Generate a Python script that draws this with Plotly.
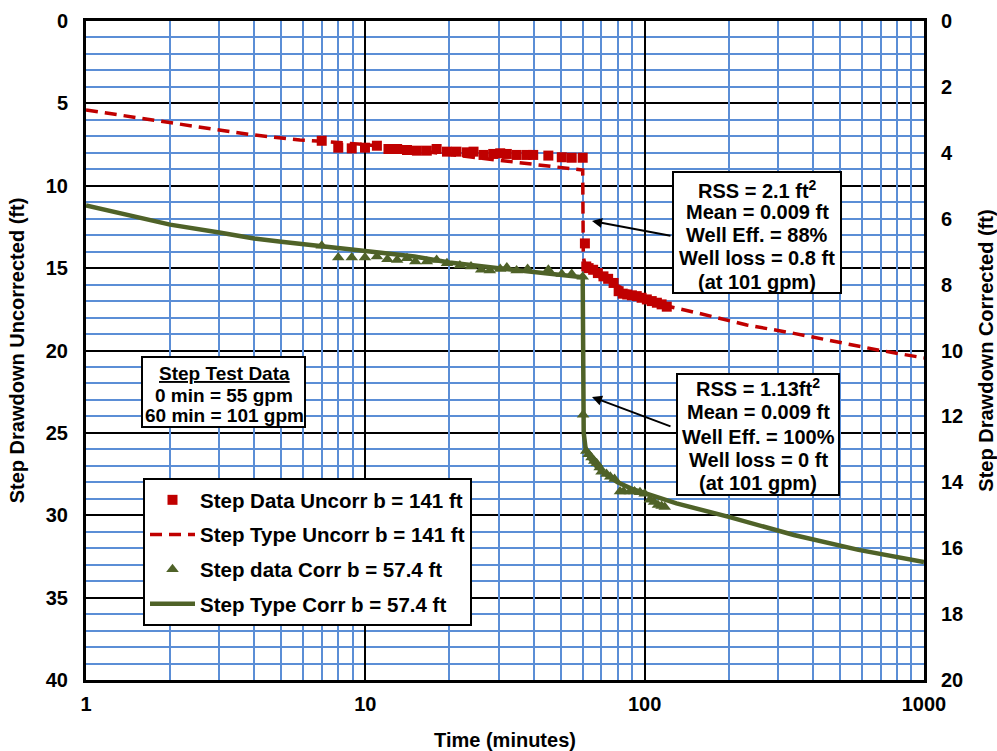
import plotly.graph_objects as go

# ---- Step test data ----
# Uncorrected drawdown (left axis, ft)
data_uncorr_t = [6.98, 8.0, 8.94, 9.97, 11.0, 12.1, 13.0, 14.1, 15.3, 16.6, 18.0, 19.6, 21.2, 23.1,
                 24.4, 26.5, 28.7, 30.4, 32.1, 34.8, 37.8, 39.9, 45.2, 50.5, 54.8, 60.0,
                 61.1, 61.8, 63.0, 65.4, 68.0, 71.2, 74.0, 77.4, 80.7, 83.5, 86.6, 90.0, 93.7,
                 97.5, 101.8, 106.0, 110.6, 115.0, 120.0]
data_uncorr_s = [7.27, 7.69, 7.73, 7.69, 7.57, 7.77, 7.77, 7.83, 7.87, 7.87, 7.77, 7.93, 7.93, 7.97,
                 7.93, 8.13, 8.07, 8.03, 8.07, 8.13, 8.13, 8.13, 8.17, 8.27, 8.30, 8.30,
                 13.5, 14.9, 15.0, 15.1, 15.3, 15.5, 15.65, 15.9, 16.4, 16.55, 16.6, 16.65, 16.7,
                 16.8, 16.9, 17.0, 17.1, 17.2, 17.34]

# Type curve, uncorrected (left axis, ft)
type_uncorr_t = [1, 2, 3, 4, 5.83, 7, 10, 15, 20, 30, 40, 50, 58, 60, 60.3, 61, 62, 65, 70, 80,
                 90, 100, 120, 157, 232, 342, 487, 700, 1000]
type_uncorr_s = [5.4, 6.2, 6.62, 6.92, 7.22, 7.3, 7.5, 7.85, 8.1, 8.44, 8.72, 8.88, 9.0, 9.05,
                 14.3, 14.7, 15.0, 15.3, 15.6, 16.1, 16.5, 16.85, 17.3, 17.75, 18.45, 18.96,
                 19.5, 20.0, 20.45]

# Corrected drawdown (right axis, ft)
data_corr_t = [6.98, 8.0, 8.94, 9.97, 11.0, 12.0, 13.0, 14.1, 15.1, 16.6, 18.0, 19.6, 21.8, 23.9,
               26.0, 27.9, 30.4, 32.1, 34.8, 38.1, 45.2, 50.5, 54.8, 60.0,
               60.2, 61.8, 63.0, 64.5, 66.0, 67.3, 69.0, 70.1, 73.0, 75.3, 78.0, 81.6, 84.0,
               88.6, 92.0, 96.2, 100.0, 104.4, 108.0, 111.6, 115.0, 118.0]
data_corr_s = [6.82, 7.18, 7.18, 7.18, 7.15, 7.23, 7.25, 7.2, 7.3, 7.3, 7.25, 7.35, 7.42, 7.45,
               7.55, 7.57, 7.53, 7.48, 7.57, 7.53, 7.55, 7.68, 7.68, 7.76,
               11.95, 13.05, 13.15, 13.25, 13.35, 13.42, 13.55, 13.68, 13.75, 13.83, 13.9, 14.28,
               14.28, 14.28, 14.28, 14.3, 14.35, 14.53, 14.6, 14.69, 14.72, 14.75]

# Type curve, corrected (right axis, ft)
type_corr_t = [1, 1.5, 2, 3, 4, 5, 7, 10, 15, 20, 30, 40, 50, 60, 60.5, 61.5, 64, 67, 71, 80,
               90, 100, 130, 200, 342, 583, 1000]
type_corr_s = [5.6, 5.92, 6.18, 6.42, 6.6, 6.7, 6.82, 6.98, 7.15, 7.33, 7.5, 7.62, 7.7, 7.78,
               12.5, 13.0, 13.3, 13.5, 13.7, 14.0, 14.2, 14.33, 14.64, 15.05, 15.6, 16.05, 16.42]

# Axis ticks
left_ticks = [0, 5, 10, 15, 20, 25, 30, 35, 40]
right_ticks = [0, 2, 4, 6, 8, 10, 12, 14, 16, 18, 20]
x_ticks = [1, 10, 100, 1000]
x_minor = [m * d for d in (1, 10, 100) for m in range(2, 10)]

# ---- Styling ----
FONT = "Liberation Sans, Arial, sans-serif"
RED = "#C00000"
GREEN = "#4F6228"
BLUE = "#5B8ED6"
W, H = 997, 751
L, R, T, B = 86, 924, 21, 680  # plot area in pixels


def px(xp):
    return (xp - L) / (R - L)


def py(yp):
    return (B - yp) / (B - T)


fig = go.Figure()

fig.add_trace(go.Scatter(
    x=data_uncorr_t, y=data_uncorr_s, mode="markers", name="Step Data Uncorr b = 141 ft",
    marker=dict(symbol="square", size=10, color=RED), legendgroup="a",
    xaxis="x", yaxis="y"))
fig.add_trace(go.Scatter(
    x=type_uncorr_t, y=type_uncorr_s, mode="lines", name="Step Type Uncorr b = 141 ft",
    line=dict(color=RED, width=3.5, dash="12px,7px"), legendgroup="b",
    xaxis="x", yaxis="y"))
fig.add_trace(go.Scatter(
    x=data_corr_t, y=data_corr_s, mode="markers", name="Step data Corr b = 57.4 ft",
    marker=dict(symbol="triangle-up", size=11, color=GREEN), legendgroup="c",
    xaxis="x2", yaxis="y2"))
fig.add_trace(go.Scatter(
    x=type_corr_t, y=type_corr_s, mode="lines", name="Step Type Corr b = 57.4 ft",
    line=dict(color=GREEN, width=4.5), legendgroup="d",
    xaxis="x2", yaxis="y2"))

bold = dict(family=FONT, size=20, color="black", weight="bold")

fig.update_layout(
    width=W, height=H,
    margin=dict(l=L, r=W - R, t=T, b=H - B, autoexpand=False),
    paper_bgcolor="white", plot_bgcolor="white",
    font=bold,
    showlegend=True,
    legend=dict(
        x=px(143), y=py(478), xanchor="left", yanchor="top",
        bgcolor="white", bordercolor="black", borderwidth=2,
        font=dict(family=FONT, size=20.5, color="black", weight="bold"),
        traceorder="grouped", tracegroupgap=5, itemwidth=45,
    ),
    # decade lines (black) and labels
    xaxis=dict(
        type="log", range=[0, 3], tickvals=x_ticks, ticktext=[str(v) for v in x_ticks],
        showgrid=True, gridcolor="black", gridwidth=2,
        showline=True, linecolor="black", linewidth=3, mirror=True,
        ticks="", ticklabelstandoff=4, tickfont=bold,
        title=dict(text="Time (minutes)", font=bold, standoff=28),
        zeroline=False,
    ),
    # intermediate log lines (blue), same scale as the main time axis
    xaxis2=dict(
        type="log", range=[0, 3], overlaying="x", anchor="y2", side="bottom",
        tickvals=x_minor, showticklabels=False, ticks="",
        showgrid=True, gridcolor=BLUE, gridwidth=1.5,
        showline=False, zeroline=False,
    ),
    yaxis=dict(
        range=[40, 0], tickvals=left_ticks,
        showgrid=True, gridcolor="black", gridwidth=2,
        minor=dict(dtick=1, showgrid=True, gridcolor=BLUE, gridwidth=1.5, ticks=""),
        showline=True, linecolor="black", linewidth=3, mirror=True,
        ticks="", ticklabelstandoff=11, tickfont=bold,
        title=dict(text="Step Drawdown Uncorrected (ft)", font=bold, standoff=16),
        zeroline=False,
    ),
    yaxis2=dict(
        overlaying="y", side="right", range=[20, 0], tickvals=right_ticks,
        showgrid=False, showline=False, ticks="", ticklabelstandoff=16, tickfont=bold,
        title=dict(text="Step Drawdown Corrected (ft)", font=bold, standoff=17),
        zeroline=False,
    ),
)

shapes = []
annotations = []


def box(x0, y0, x1, y1):
    shapes.append(dict(type="rect", xref="paper", yref="paper",
                       x0=px(x0), x1=px(x1), y0=py(y1), y1=py(y0),
                       line=dict(color="black", width=2), fillcolor="white", layer="above"))


def text_line(xc, yc, s, size=20):
    annotations.append(dict(xref="paper", yref="paper", x=px(xc), y=py(yc),
                            text=s, showarrow=False, xanchor="center", yanchor="middle",
                            font=dict(family=FONT, size=size, color="black", weight="bold")))


def arrow(hx, hy, tx, ty):
    annotations.append(dict(xref="paper", yref="paper", x=px(hx), y=py(hy),
                            axref="pixel", ayref="pixel", ax=tx - hx, ay=ty - hy,
                            text="", showarrow=True, arrowhead=2, arrowsize=1,
                            arrowwidth=2, arrowcolor="black", standoff=0))


# Step test summary
box(142, 357, 305, 427)
for yc, s in [(373, "<u>Step Test Data</u>"), (395, "0 min = 55 gpm"), (415, "60 min = 101 gpm")]:
    text_line(224, yc, s, size=19)

# Uncorrected fit statistics
box(673, 172, 841, 293)
for yc, s in [(189, "RSS = 2.1 ft<sup>2</sup>"), (212, "Mean = 0.009 ft"), (235, "Well Eff. = 88%"),
              (258, "Well loss = 0.8 ft"), (282, "(at 101 gpm)")]:
    text_line(757, yc, s)
arrow(592, 221, 672, 236)

# Corrected fit statistics
box(677, 374, 839, 495)
for yc, s in [(387, "RSS = 1.13ft<sup>2</sup>"), (412, "Mean = 0.009 ft"), (437, "Well Eff. = 100%"),
              (460, "Well loss = 0 ft"), (483, "(at 101 gpm)")]:
    text_line(758, yc, s)
arrow(592, 397, 672, 427)

fig.update_layout(shapes=shapes, annotations=annotations)

fig.write_html("out.html", config={"displayModeBar": False})
